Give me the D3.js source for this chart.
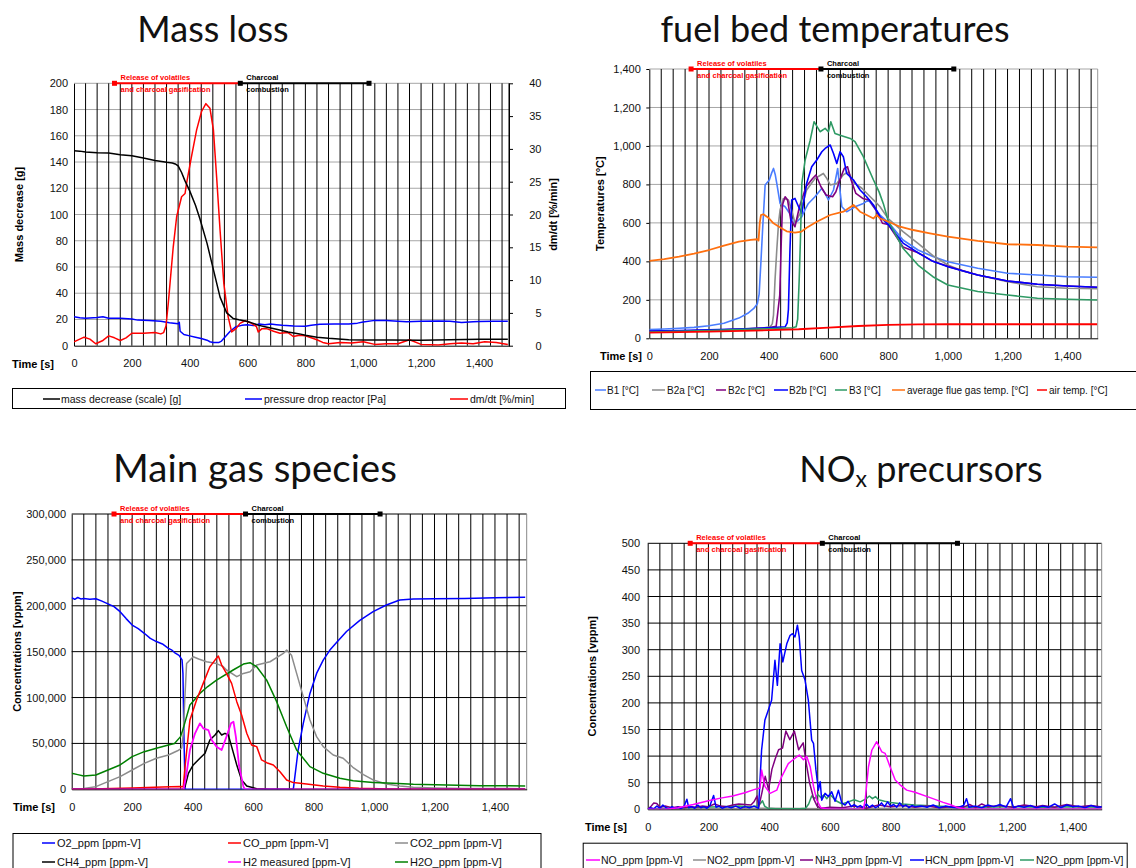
<!DOCTYPE html>
<html><head><meta charset="utf-8">
<script src="https://cdn.jsdelivr.net/npm/d3@7"></script>
<style>
body{margin:0;background:#fff}
svg{display:block}
</style>
</head><body>
<svg id="c" width="1136" height="868" font-family='"Liberation Sans",Arial,sans-serif'></svg>
<script>
// ---------------- DATA ----------------
const phaseBounds = [140, 575, 1020];
const phaseLabels = [["Release of volatiles", "and charcoal gasification"], ["Charcoal", "combustion"]];
const phaseColors = ["#ff0000", "#000000"];
const xTicks = [0, 200, 400, 600, 800, 1000, 1200, 1400];

// Panel 1: Mass loss
const massDecrease = [[0,148.5],[20,148.3],[40,147.6],[80,147],[120,146.8],[160,145.6],[200,144.8],[240,143],[280,141.2],[320,139.8],[340,139.3],[350,138.5],[360,137],[372,132],[383,126],[400,118],[420,107],[435,97],[460,78],[482,58],[505,37],[528,25],[550,20.8],[570,19.8],[600,18.5],[620,17],[640,15.5],[660,14.5],[700,12.5],[740,10.5],[780,9],[800,8],[840,6.5],[880,5.6],[950,4.6],[1000,4.3],[1100,4.3],[1200,4.2],[1300,4.6],[1400,5],[1500,5]];
const pressureDrop = [[0,22],[20,21.3],[40,21],[80,21.5],[100,22],[120,21],[160,21],[200,20.3],[220,19.5],[260,19.2],[300,18.7],[330,17.5],[360,16.8],[364,17.8],[367,11],[380,8.5],[400,7.5],[420,6.5],[440,5.5],[460,4.2],[470,3],[480,2.4],[500,2.4],[510,3.5],[520,6],[540,11],[560,14.5],[580,15.5],[600,16],[620,15.3],[640,16.5],[660,16],[680,16.5],[700,16],[720,15.5],[760,15],[800,14.8],[820,15.5],[850,16.3],[900,16.5],[950,16.5],[980,17.2],[1000,18],[1040,19.3],[1080,19.3],[1120,18.7],[1150,18.2],[1200,18.6],[1260,18.8],[1300,18.6],[1340,17.6],[1380,18.2],[1400,18.5],[1450,18.6],[1500,18.6]];
const dmdt = [[0,0.6],[20,1],[35,1.3],[55,1],[75,0.3],[100,0.8],[120,1.5],[140,1.2],[160,0.8],[180,1.2],[200,1.9],[240,1.9],[280,2],[300,1.8],[310,2],[318,3],[326,6.5],[332,9.5],[343,15],[355,19.7],[372,22.7],[384,23.2],[389,24.7],[406,28.8],[424,32.9],[441,35.7],[456,36.9],[470,36.2],[482,32.9],[493,25.8],[505,17.6],[518,9.5],[533,4.4],[545,2.1],[560,2.6],[574,3.4],[591,3.8],[610,3.5],[631,2.9],[637,2.1],[650,2.6],[666,2.6],[690,2.2],[712,1.9],[740,2],[758,1.4],[780,1.6],[800,1.5],[820,1.2],[840,0.9],[860,0.5],[880,0.3],[920,0.5],[960,0.4],[1000,0.6],[1040,0.2],[1080,0.3],[1120,0.3],[1160,0.9],[1200,0.2],[1260,0.1],[1300,0.3],[1340,0.4],[1380,0.3],[1420,0.6],[1460,0.5],[1500,0.2]];

// Panel 2: fuel bed temperatures
const tempB1 = [[0,45],[50,48],[100,52],[150,57],[200,65],[250,78],[300,105],[330,130],[350,155],[362,180],[368,230],[374,400],[380,580],[388,797],[395,810],[402,823],[410,860],[416,883],[422,850],[427,805],[438,701],[455,684],[470,650],[483,598],[497,610],[511,632],[522,670],[533,701],[555,736],[578,780],[590,750],[600,719],[617,771],[631,883],[638,780],[645,684],[661,658],[675,670],[689,684],[717,701],[734,719],[751,684],[773,641],[800,604],[850,511],[900,459],[950,425],[1000,398],[1100,364],[1200,338],[1300,329],[1400,320],[1500,317]];
const tempB2a = [[0,35],[100,38],[200,42],[300,48],[380,53],[405,60],[412,75],[416,120],[421,300],[427,459],[433,600],[438,667],[449,727],[466,719],[478,660],[488,598],[505,650],[527,771],[555,831],[583,857],[595,830],[606,797],[628,805],[650,850],[667,865],[684,810],[712,780],[740,736],[760,705],[773,684],[800,622],[850,555],[900,494],[950,430],[1000,381],[1050,350],[1100,329],[1200,294],[1300,268],[1400,260],[1500,258]];
const tempB2c = [[0,35],[100,38],[200,42],[300,47],[400,55],[425,62],[430,130],[437,225],[442,500],[446,693],[455,736],[463,720],[474,615],[488,580],[503,684],[525,788],[547,831],[558,849],[575,788],[592,745],[614,736],[625,762],[642,840],[653,883],[664,892],[676,823],[692,753],[715,727],[737,719],[759,667],[781,598],[800,592],[850,475],[900,445],[950,400],[1000,374],[1100,329],[1200,298],[1300,281],[1400,272],[1500,265]];
const tempB2b = [[0,38],[100,40],[200,44],[300,48],[400,55],[455,60],[462,80],[466,150],[471,450],[477,719],[488,727],[500,684],[511,650],[527,805],[544,892],[561,927],[578,970],[589,987],[606,1005],[617,961],[628,909],[639,970],[650,944],[661,857],[684,823],[706,771],[728,736],[751,693],[773,632],[801,590],[850,495],[900,445],[950,400],[1000,372],[1100,329],[1200,298],[1300,281],[1400,272],[1500,265]];
const tempB3 = [[0,33],[100,36],[200,40],[300,45],[400,50],[480,55],[492,60],[497,100],[502,300],[506,500],[511,805],[522,927],[539,1030],[552,1126],[572,1074],[589,1091],[600,1074],[608,1126],[622,1065],[639,1056],[673,1039],[689,1022],[717,944],[751,823],[770,760],[784,700],[800,612],[850,468],[900,381],[950,320],[1000,277],[1100,243],[1200,225],[1300,208],[1400,203],[1500,199]];
const tempFlue = [[0,402],[50,412],[100,425],[150,440],[200,459],[250,482],[300,503],[340,512],[362,515],[366,508],[370,600],[374,640],[382,645],[400,625],[416,598],[440,575],[460,556],[488,549],[510,555],[527,575],[561,606],[606,641],[650,658],[684,693],[706,658],[728,641],[751,623],[762,641],[773,623],[801,606],[840,580],[884,563],[940,546],[1000,529],[1100,506],[1200,489],[1300,485],[1400,477],[1500,473]];
const tempAir = [[0,30],[200,35],[400,42],[500,47],[600,56],[700,64],[800,70],[900,72],[1000,73],[1500,73]];

// Panel 3: main gas species [vppm]
const o2 = [[0,208800],[10,207000],[20,209000],[30,207500],[40,208000],[60,207000],[80,207700],[100,205000],[120,202000],[140,199000],[160,193600],[180,186000],[200,179000],[220,175000],[240,170000],[260,164500],[280,161000],[300,158400],[320,153600],[330,152000],[340,149000],[355,146000],[365,141000],[368,126000],[371,61000],[375,0],[733,0],[749,42800],[766,71900],[788,104500],[810,126300],[832,140800],[854,151700],[876,160000],[909,172000],[953,184000],[997,193600],[1041,200800],[1085,206300],[1130,207400],[1200,207700],[1300,208000],[1400,208800],[1500,209200]];
const co = [[0,0],[100,500],[200,1500],[300,2500],[360,3000],[369,2900],[375,24700],[391,75500],[413,97300],[435,115400],[457,133600],[474,140800],[485,145200],[496,135400],[512,126300],[529,115400],[546,95500],[562,81000],[579,61000],[595,48300],[612,46500],[628,32000],[645,29000],[667,26500],[689,19200],[711,10200],[733,7300],[777,5800],[832,3600],[887,2200],[950,1200],[1050,400],[1150,0],[1500,0]];
const co2 = [[0,500],[40,1000],[80,2900],[120,8400],[160,13800],[200,21000],[240,28300],[280,33800],[320,37400],[350,42000],[364,45000],[369,61000],[374,97000],[380,137000],[402,144500],[420,142000],[446,139000],[479,137000],[500,134000],[512,130000],[546,122700],[568,126300],[590,128000],[612,135400],[656,139000],[700,148000],[711,151700],[727,146000],[744,126300],[766,101000],[788,75500],[810,57400],[832,46500],[865,37400],[898,33800],[930,24000],[965,16000],[997,10200],[1041,5800],[1085,3600],[1130,2200],[1200,1500],[1300,1000],[1500,700]];
const ch4 = [[0,0],[368,0],[375,2900],[386,17400],[402,26500],[424,33800],[441,39200],[457,53700],[474,59200],[485,63900],[496,59200],[507,61000],[518,59200],[529,46500],[546,26500],[562,10200],[579,3600],[612,700],[650,0],[1500,0]];
const h2 = [[0,0],[370,0],[380,17400],[391,42800],[408,61000],[424,71900],[435,66400],[452,64600],[463,53700],[479,46500],[496,42800],[512,57400],[527,71900],[535,73700],[543,57400],[554,24700],[568,2900],[573,0],[1500,0]];
const h2o = [[0,17400],[20,16000],[40,14500],[80,15600],[120,21000],[160,26500],[200,35600],[240,41000],[280,44700],[320,48300],[340,50000],[360,57400],[369,66400],[391,91800],[424,104500],[450,112000],[479,119000],[534,130000],[568,136500],[590,138000],[612,133600],[645,119000],[678,95500],[711,68200],[744,42800],[788,24700],[832,17400],[887,12000],[931,9400],[997,7300],[1063,6500],[1130,5400],[1240,4700],[1350,4000],[1500,3600]];

// Panel 4: NOx precursors [vppm]
const noPpm = [[0,0],[60,0],[100,3],[150,9],[200,16],[240,21],[280,25],[320,31],[350,37],[370,40],[375,74],[386,43],[403,30],[425,36],[441,61],[463,86],[485,96],[499,102],[513,93],[524,99],[535,80],[546,43],[557,17],[570,3],[600,0],[710,0],[716,17],[727,80],[738,111],[754,127],[771,108],[782,105],[798,80],[815,55],[831,46],[853,36],[880,32],[930,22],[973,13],[995,9],[1017,4],[1050,0],[1500,0]];
const no2Ppm = [[0,1],[200,1],[400,2],[600,1],[800,2],[1000,1],[1500,1]];
const nh3Ppm = [[0,0],[10,5],[20,12],[30,11],[40,4],[60,6],[80,3],[100,5],[120,3],[140,5],[160,4],[180,6],[200,5],[220,10],[240,6],[260,5],[280,8],[300,10],[320,9],[340,8],[350,14],[360,25],[366,5],[376,31],[387,62],[398,37],[409,75],[420,95],[431,112],[444,115],[455,147],[468,131],[483,147],[497,112],[512,125],[522,87],[533,50],[547,19],[558,6],[570,2],[600,4],[640,3],[680,6],[720,2],[760,8],[800,5],[840,7],[880,4],[920,6],[960,3],[1000,5],[1040,4],[1060,9],[1080,3],[1100,10],[1120,5],[1160,7],[1200,4],[1240,8],[1280,5],[1300,7],[1340,4],[1380,9],[1420,5],[1460,7],[1500,4]];
const hcnPpm = [[0,0],[10,3],[20,1],[30,6],[40,2],[50,8],[60,3],[70,1],[80,5],[90,2],[100,4],[110,1],[120,6],[129,19],[135,3],[145,5],[155,2],[165,8],[175,3],[185,5],[195,2],[205,7],[217,26],[225,4],[235,6],[245,2],[260,5],[275,3],[290,6],[305,2],[320,5],[335,3],[350,6],[365,2],[375,111],[386,168],[397,186],[408,205],[419,280],[427,233],[436,311],[445,277],[458,311],[469,327],[477,330],[485,324],[493,346],[499,324],[507,261],[518,243],[529,205],[540,130],[546,124],[554,74],[562,36],[568,52],[573,17],[584,30],[595,24],[606,33],[617,15],[628,36],[639,12],[650,8],[660,15],[670,5],[680,9],[690,4],[700,7],[710,3],[720,10],[730,4],[740,8],[750,3],[760,6],[770,12],[780,5],[790,14],[800,6],[810,9],[820,4],[830,12],[840,5],[850,8],[860,3],[870,7],[880,5],[900,6],[920,4],[940,8],[960,3],[980,6],[1000,4],[1020,3],[1040,7],[1050,20],[1058,4],[1080,6],[1100,3],[1120,8],[1140,5],[1160,9],[1180,4],[1195,20],[1205,3],[1220,6],[1240,4],[1260,7],[1280,3],[1300,6],[1320,4],[1340,10],[1360,3],[1380,8],[1400,5],[1420,6],[1440,3],[1460,7],[1480,4],[1500,5]];
const n2oPpm = [[0,0],[60,2],[120,3],[180,4],[240,5],[300,6],[340,5],[360,6],[370,10],[378,16],[385,6],[395,2],[420,1],[500,1],[520,2],[530,10],[540,25],[550,20],[560,28],[570,22],[580,27],[590,20],[600,28],[610,22],[620,16],[640,10],[660,14],[680,18],[700,14],[720,20],[730,25],[740,20],[750,24],[760,18],[780,15],[800,13],[840,10],[880,8],[950,6],[1000,5],[1100,4],[1200,5],[1300,4],[1400,5],[1500,4]];

// ---------------- DRAW ----------------
const svg = d3.select("#c");
const defs = svg.append("defs");
let clipId = 0;

function panel(o) {
  const g = svg.append("g");
  const x = d3.scaleLinear().domain([0, o.xMax]).range([o.l, o.r]);
  const y = d3.scaleLinear().domain([0, o.yMax]).range([o.b, o.t]);
  const yVals = d3.range(0, o.yMax + o.yStep / 2, o.yStep);
  g.append("g").selectAll("line").data(yVals.slice(1)).join("line")
    .attr("x1", o.l).attr("x2", o.r).attr("y1", d => y(d)).attr("y2", d => y(d))
    .attr("stroke", o.hGrid).attr("stroke-width", 1);
  g.append("g").selectAll("line").data(d3.range(40, o.xMax, 40)).join("line")
    .attr("x1", d => x(d)).attr("x2", d => x(d)).attr("y1", o.t).attr("y2", o.b)
    .attr("stroke", "#000").attr("stroke-width", 1);
  g.append("line").attr("x1", o.r).attr("x2", o.r).attr("y1", o.t).attr("y2", o.b)
    .attr("stroke", o.rightColor || "#888").attr("stroke-width", 1);

  const xa = g.append("g").attr("transform", `translate(0,${o.b})`)
    .call(d3.axisBottom(x).tickValues(xTicks).tickFormat(d3.format(",")).tickSize(0).tickPadding(14));
  xa.attr("font-family", null).attr("font-size", null);
  xa.select(".domain").attr("stroke", "#000");
  xa.selectAll("text").attr("font-size", 11).attr("fill", "#111");
  const ya = g.append("g").attr("transform", `translate(${o.l},0)`)
    .call(d3.axisLeft(y).tickValues(yVals).tickFormat(d3.format(",")).tickSize(o.tickLen).tickSizeOuter(0).tickPadding(o.yPad));
  ya.attr("font-family", null).attr("font-size", null);
  ya.select(".domain").attr("stroke", "#000");
  ya.selectAll("line").attr("stroke", "#000");
  ya.selectAll("text").attr("font-size", 11).attr("fill", "#111");

  g.append("text").attr("x", o.timeX).attr("y", o.b + 22).attr("font-size", 11).attr("font-weight", "bold").text("Time [s]");
  g.append("text").attr("transform", `translate(${o.yTitleX},${(o.t + o.b) / 2}) rotate(-90)`)
    .attr("text-anchor", "middle").attr("font-size", 11).attr("font-weight", "bold").attr("dy", "0.35em").text(o.yTitle);

  const cid = "clip" + (clipId++);
  defs.append("clipPath").attr("id", cid).append("rect")
    .attr("x", o.l).attr("y", o.t - 2).attr("width", o.r - o.l).attr("height", o.b - o.t + 2);
  const sg = g.append("g").attr("clip-path", `url(#${cid})`);
  o.series.forEach(s => {
    const ys = s.scale ? s.scale : y;
    const line = d3.line().x(d => x(d[0])).y(d => ys(d[1]));
    sg.append("path").attr("d", line(s.data)).attr("fill", "none")
      .attr("stroke", s.color).attr("stroke-width", s.w || 1.5).attr("stroke-linejoin", "round");
  });

  const pg = g.append("g");
  for (let i = 0; i < 2; i++) {
    pg.append("line").attr("x1", x(phaseBounds[i])).attr("x2", x(phaseBounds[i + 1]))
      .attr("y1", o.t).attr("y2", o.t).attr("stroke", phaseColors[i]).attr("stroke-width", 2);
  }
  [[0, 0], [1, 1], [2, 1]].forEach(([bi, ci]) => {
    pg.append("rect").attr("x", x(phaseBounds[bi]) - 2.5).attr("y", o.t - 2.5).attr("width", 5).attr("height", 5)
      .attr("fill", phaseColors[ci]);
  });
  for (let i = 0; i < 2; i++) {
    const t = pg.append("text").attr("font-size", 7.5).attr("font-weight", "bold").attr("fill", phaseColors[i]);
    phaseLabels[i].forEach((s, k) => {
      t.append("tspan").attr("x", x(phaseBounds[i]) + 6).attr("y", o.t - 6 + k * 12).attr("dy", "0.35em").text(s);
    });
  }
  return {x, y, g};
}

function legend(box, items, fs) {
  const g = svg.append("g");
  g.append("rect").attr("x", box[0] + 0.5).attr("y", box[1] + 0.5).attr("width", box[2]).attr("height", box[3])
    .attr("fill", "#fff").attr("stroke", "#000").attr("stroke-width", 1);
  items.forEach(it => {
    g.append("line").attr("x1", it[0]).attr("x2", it[1]).attr("y1", it[3]).attr("y2", it[3])
      .attr("stroke", it[5]).attr("stroke-width", 1.5);
    g.append("text").attr("x", it[2]).attr("y", it[3]).attr("dy", "0.35em").attr("font-size", fs).attr("fill", "#111").text(it[4]);
  });
}

function title(xc, yb, parts, fs) {
  const t = svg.append("text").attr("x", xc).attr("y", yb).attr("text-anchor", "middle")
    .attr("font-family", "Lato, 'Open Sans', sans-serif").attr("font-size", fs).attr("fill", "#111");
  parts.forEach(p => {
    const s = t.append("tspan").text(p.t);
    if (p.sub) s.attr("font-size", fs * 0.64).attr("baseline-shift", "-22%");
  });
}

// ---------- Panel 1 ----------
const p1 = {l: 74, r: 509, t: 83.3, b: 345.7, xMax: 1504, yMax: 200, yStep: 20, hGrid: "#a6a6a6", rightColor: "#000",
  tickLen: 0, yPad: 6, timeX: 12, yTitleX: 19, yTitle: "Mass decrease [g]"};
const yR1 = d3.scaleLinear().domain([0, 40]).range([p1.b, p1.t]);
p1.series = [
  {data: pressureDrop, color: "#0000ff", w: 1.5},
  {data: dmdt, color: "#ff0000", w: 1.5, scale: yR1},
  {data: massDecrease, color: "#000", w: 1.5}
];
panel(p1);
const ra = svg.append("g").attr("transform", `translate(${p1.r},0)`)
  .call(d3.axisRight(yR1).tickValues(d3.range(0, 41, 5)).tickSize(4).tickSizeOuter(0).tickPadding(4));
ra.attr("font-family", null).attr("font-size", null);
ra.select(".domain").attr("stroke", "#000");
ra.selectAll("text").attr("font-size", 11).attr("fill", "#111").attr("text-anchor", "end").attr("x", 32.5);
svg.append("text").attr("transform", `translate(553,${(p1.t + p1.b) / 2}) rotate(-90)`).attr("text-anchor", "middle")
  .attr("dy", "0.35em").attr("font-size", 11).attr("font-weight", "bold").text("dm/dt [%/min]");
legend([12, 388, 553, 20], [
  [43, 60, 61, 399, "mass decrease (scale) [g]", "#000"],
  [245, 262, 264, 399, "pressure drop reactor [Pa]", "#0000ff"],
  [450, 468, 470, 399, "dm/dt [%/min]", "#ff0000"]
], 10.5);
title(213, 42, [{t: "Mass loss"}], 36);

// ---------- Panel 2 ----------
const p2 = {l: 649.3, r: 1097.7, t: 69, b: 338.3, xMax: 1502, yMax: 1400, yStep: 200, hGrid: "#a6a6a6", rightColor: "#999",
  tickLen: 3, yPad: 5.5, timeX: 600, yTitleX: 600, yTitle: "Temperatures [°C]"};
p2.series = [
  {data: tempB1, color: "#4a7dff", w: 1.6},
  {data: tempB2a, color: "#8c8c8c", w: 1.6},
  {data: tempB2c, color: "#800080", w: 1.6},
  {data: tempB2b, color: "#0000ff", w: 1.6},
  {data: tempB3, color: "#2e9a64", w: 1.6},
  {data: tempFlue, color: "#ff7010", w: 1.8},
  {data: tempAir, color: "#ff0000", w: 1.8}
];
panel(p2);
legend([590, 371, 560, 38], [
  [595, 606, 607, 390, "B1 [°C]", "#4a7dff"],
  [652, 665, 667, 390, "B2a [°C]", "#8c8c8c"],
  [716, 726, 728, 390, "B2c [°C]", "#800080"],
  [774, 788, 789, 390, "B2b [°C]", "#0000ff"],
  [835, 847, 849, 390, "B3 [°C]", "#2e9a64"],
  [892, 905, 907, 390, "average flue gas temp. [°C]", "#ff7010"],
  [1037, 1047, 1049, 390, "air temp. [°C]", "#ff0000"]
], 10);
title(835, 42, [{t: "fuel bed temperatures"}], 36);

// ---------- Panel 3 ----------
const p3 = {l: 71.7, r: 526.7, t: 514, b: 789.3, xMax: 1505, yMax: 300000, yStep: 50000, hGrid: "#000", rightColor: "#888",
  tickLen: 0, yPad: 5.7, timeX: 13, yTitleX: 17, yTitle: "Concentrations [vppm]"};
p3.series = [
  {data: o2, color: "#0000ff"},
  {data: co2, color: "#8c8c8c"},
  {data: h2o, color: "#008000"},
  {data: co, color: "#ff0000"},
  {data: ch4, color: "#000"},
  {data: h2, color: "#ff00ff", w: 1.8}
];
panel(p3);
legend([12.5, 833, 528, 40], [
  [42, 55, 57, 843, "O2_ppm [ppm-V]", "#0000ff"],
  [228, 241, 243, 843, "CO_ppm [ppm-V]", "#ff0000"],
  [395, 408, 410, 843, "CO2_ppm [ppm-V]", "#8c8c8c"],
  [42, 55, 57, 862, "CH4_ppm [ppm-V]", "#000"],
  [228, 241, 243, 862, "H2 measured [ppm-V]", "#ff00ff"],
  [395, 408, 410, 862, "H2O_ppm [ppm-V]", "#008000"]
], 11);
title(255, 482, [{t: "Main gas species"}], 38.5);

// ---------- Panel 4 ----------
const p4 = {l: 647.7, r: 1101.7, t: 543.3, b: 809.3, xMax: 1495, yMax: 500, yStep: 50, hGrid: "#000", rightColor: "#888",
  tickLen: 0, yPad: 7.7, timeX: 585, yTitleX: 592, yTitle: "Concentrations [vppm]"};
p4.series = [
  {data: no2Ppm, color: "#8c8c8c"},
  {data: n2oPpm, color: "#2e9a64"},
  {data: nh3Ppm, color: "#800080"},
  {data: hcnPpm, color: "#0000ff"},
  {data: noPpm, color: "#ff00ff"}
];
panel(p4);
legend([582.7, 842.7, 544, 40], [
  [586, 600, 601, 860, "NO_ppm [ppm-V]", "#ff00ff"],
  [693, 706, 707, 860, "NO2_ppm [ppm-V]", "#8c8c8c"],
  [800, 813, 815, 860, "NH3_ppm [ppm-V]", "#800080"],
  [910, 924, 925, 860, "HCN_ppm [ppm-V]", "#0000ff"],
  [1020, 1034, 1036, 860, "N2O_ppm [ppm-V]", "#2e9a64"]
], 10.5);
title(921, 482, [{t: "NO"}, {t: "x", sub: true}, {t: " precursors"}], 36);
</script>
</body></html>
